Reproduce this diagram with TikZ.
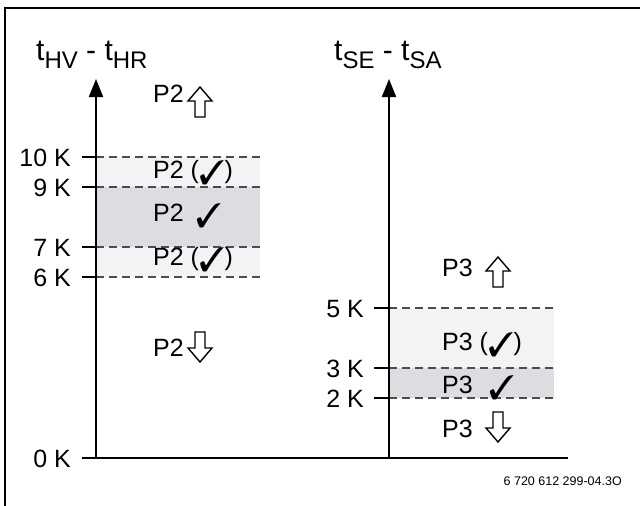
\documentclass[tikz,border=0pt]{standalone}
\usepackage{fontspec}
\setmainfont{Liberation Sans}
\usepackage{pifont}
\usetikzlibrary{arrows.meta}
\newcommand\ckm{{\fontsize{34}{34}\selectfont\raisebox{-6pt}{\ding{51}}}}
\newcommand\sbs[1]{\raisebox{-8pt}{\fontsize{24}{24}\selectfont #1}}
\begin{document}
\begin{tikzpicture}[x=1pt,y=-1pt,
  lbl/.style={font=\fontsize{25}{25}\selectfont, inner sep=0pt, anchor=base west},
  ticklbl/.style={font=\fontsize{25}{25}\selectfont, inner sep=0pt, anchor=base east},
  ttl/.style={font=\fontsize{30}{30}\selectfont, inner sep=0pt, anchor=base west},
  axisline/.style={line width=2pt, -{Triangle[width=14pt,length=18pt]}},
  baseline/.style={line width=2pt},
  tickline/.style={line width=2pt},
  dashline/.style={draw=black!70, dash pattern=on 8pt off 5pt, line width=1.2pt},
  frameline/.style={line width=2.6pt},
  blockarr/.style={draw=black, line width=1.4pt, fill=white, line join=miter},
  pics/uparr/.style={code={\draw[blockarr] (0,0) -- (12,14) -- (5,14) -- (5,30) -- (-5,30) -- (-5,14) -- (-12,14) -- cycle;}},
  pics/downarr/.style={code={\draw[blockarr] (0,30) -- (12,16) -- (5,16) -- (5,0) -- (-5,0) -- (-5,16) -- (-12,16) -- cycle;}}
]
\useasboundingbox (0,0) rectangle (640,506);
\definecolor{bandlight}{RGB}{242,243,245}
\definecolor{banddark}{RGB}{220,221,224}

% frame
\draw[frameline] (5,506) -- (5,8) -- (640,8);

% bands left
\fill[bandlight] (96,157) rectangle (260,187);
\fill[banddark] (96,187) rectangle (260,247);
\fill[bandlight] (96,247) rectangle (260,277);
% bands right
\fill[bandlight] (389,308) rectangle (554,368);
\fill[banddark] (389,368) rectangle (554,398);

% dashed lines
\draw[dashline] (96,157) -- (260,157);
\draw[dashline] (96,187) -- (260,187);
\draw[dashline] (96,247) -- (260,247);
\draw[dashline] (96,277) -- (260,277);
\draw[dashline] (389,308) -- (554,308);
\draw[dashline] (389,368) -- (554,368);
\draw[dashline] (389,398) -- (554,398);

% axes
\coordinate (o1) at (96,458);
\coordinate (top1) at (96,79);
\coordinate (o2) at (389,458);
\coordinate (top2) at (389,79);
\coordinate (xstart) at (82,458);
\coordinate (xend) at (568,458);
\draw[baseline] (xstart) -- (xend);
\draw[axisline] (o1) -- (top1);
\draw[axisline] (o2) -- (top2);

% ticks left
\foreach \yy/\tx in {157/10 K,187/9 K,247/7 K,277/6 K,458/0 K}{
  \draw[tickline] (82,\yy) -- (96,\yy);
  \node[ticklbl] at (71,\yy+9) {\tx};
}
% ticks right
\foreach \yy/\tx in {308/5 K,368/3 K,398/2 K}{
  \draw[tickline] (374,\yy) -- (389,\yy);
  \node[ticklbl] at (364,\yy+9) {\tx};
}

% titles
\node[ttl] (t1) at (36,60) {t\sbs{HV} - t\sbs{HR}};
\node[ttl] (t2) at (334,60) {t\sbs{SE} - t\sbs{SA}};

% left labels
\node[lbl] (p2up) at (153,102) {P2};
\pic at (200,87) {uparr};
\node[lbl] (p2a) at (153,178) {P2 (\ckm)};
\node[lbl] (p2b) at (153,221) {P2\hspace{12pt}\ckm};
\node[lbl] (p2c) at (153,265) {P2 (\ckm)};
\node[lbl] (p2dn) at (153,356) {P2};
\pic at (200,332) {downarr};

% right labels
\node[lbl] (p3up) at (442,276) {P3};
\pic at (498,257) {uparr};
\node[lbl] (p3a) at (442,350) {P3 (\ckm)};
\node[lbl] (p3b) at (442,393) {P3\hspace{16pt}\ckm};
\node[lbl] (p3dn) at (442,437) {P3};
\pic at (498,412) {downarr};

% figure number
\node[font=\fontsize{12.5}{12.5}\selectfont, inner sep=0pt, anchor=base east] (fig) at (622,485) {6 720 612 299-04.3O};
\end{tikzpicture}
\end{document}
